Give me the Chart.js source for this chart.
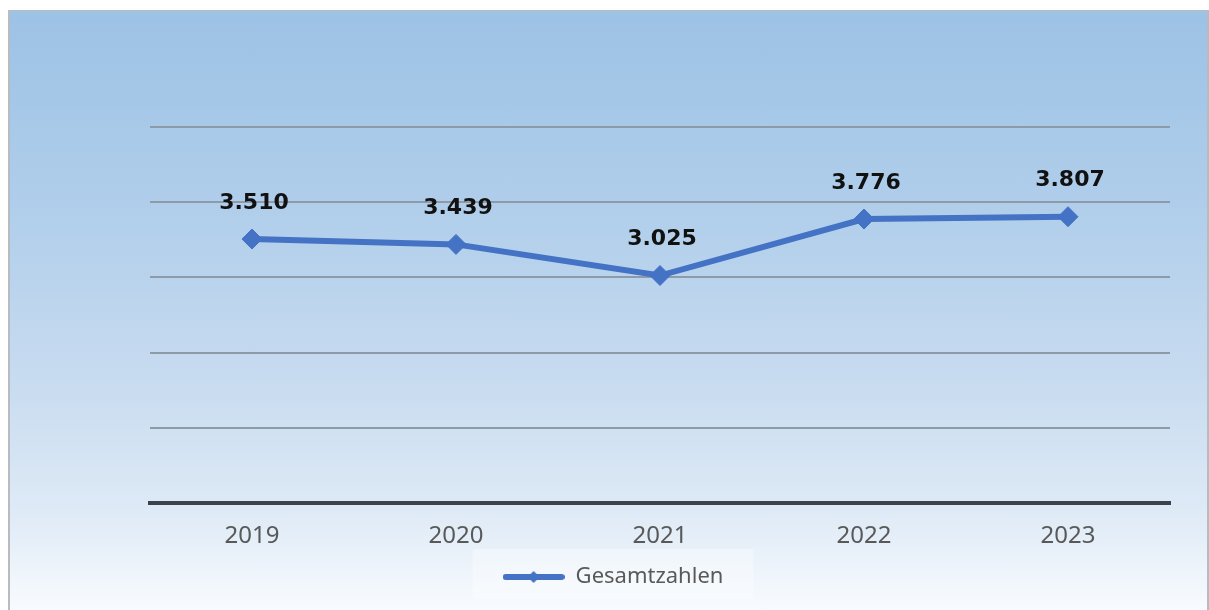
<!DOCTYPE html>
<html lang="de">
<head>
<meta charset="utf-8">
<title>Gesamtzahlen 2019–2023</title>
<script src="https://cdn.jsdelivr.net/npm/chart.js@4.4.0/dist/chart.umd.min.js"></script>
<style>
  html, body { margin: 0; padding: 0; background: #fff; }
  body { width: 1209px; height: 610px; position: relative; overflow: hidden; }
  .frame {
    position: absolute; left: 8px; top: 10px; width: 1197px; height: 610px;
    border-left: 2px solid #b8bcc1; border-top: 1px solid #b8bcc1; border-right: 2px solid #b8bcc1;
    background: linear-gradient(to bottom, #9cc2e5 0%, #b2cfeb 35%, #c9dcf0 62%, #deeaf6 82%, #fbfdff 100%);
  }
  #chart { position: absolute; left: 0; top: 0; }
</style>
</head>
<body>
<div class="frame"></div>
<canvas id="chart" width="1209" height="610"></canvas>
<script>
const years = ["2019", "2020", "2021", "2022", "2023"];
const totals = [3510, 3439, 3025, 3776, 3807];
const seriesName = "Gesamtzahlen";

const blue = "#4472C4";

// 3510 -> "3.510"
function formatNumber(n) {
  return String(n).replace(/\B(?=(\d{3})+(?!\d))/g, ".");
}

// little line-with-diamond used as the legend marker
function legendMarker() {
  const c = document.createElement("canvas");
  c.width = 62;
  c.height = 16;
  const g = c.getContext("2d");
  g.strokeStyle = blue;
  g.lineWidth = 6;
  g.lineCap = "round";
  g.beginPath();
  g.moveTo(3, 8);
  g.lineTo(59, 8);
  g.stroke();
  g.fillStyle = blue;
  g.beginPath();
  g.moveTo(31, 2);
  g.lineTo(37, 8);
  g.lineTo(31, 14);
  g.lineTo(25, 8);
  g.closePath();
  g.fill();
  return c;
}

const valueLabels = {
  id: "valueLabels",
  afterDatasetsDraw(chart) {
    const ctx = chart.ctx;
    const meta = chart.getDatasetMeta(0);
    ctx.save();
    ctx.font = "bold 22px 'DejaVu Sans'";
    ctx.fillStyle = "#111";
    ctx.textAlign = "center";
    ctx.textBaseline = "middle";
    meta.data.forEach((pt, i) => {
      ctx.fillText(formatNumber(chart.data.datasets[0].data[i]), pt.x + 2, pt.y - 36);
    });
    ctx.restore();
  }
};

// legend sits centred under the whole frame, not under the plot area
const legendShift = { x: -47, y: -3 };

const legendBox = {
  id: "legendBox",
  afterLayout(chart) {
    const lg = chart.legend;
    if (!lg) return;
    lg.left += legendShift.x;
    lg.right += legendShift.x;
    lg.top += legendShift.y;
    lg.bottom += legendShift.y;
    lg.legendHitBoxes.forEach(b => { b.left += legendShift.x; b.top += legendShift.y; });
  },
  beforeDraw(chart) {
    const lg = chart.legend;
    if (!lg || !lg.legendHitBoxes.length) return;
    const box = lg.legendHitBoxes[0];
    const ctx = chart.ctx;
    ctx.save();
    ctx.fillStyle = "rgba(255,255,255,0.35)";
    ctx.fillRect(box.left - 30, box.top - 14, box.width + 60, box.height + 28);
    ctx.restore();
  }
};

new Chart(document.getElementById("chart"), {
  type: "line",
  data: {
    labels: years,
    datasets: [{
      label: seriesName,
      data: totals,
      borderColor: blue,
      backgroundColor: blue,
      borderWidth: 6,
      tension: 0,
      pointStyle: "rectRot",
      pointRadius: 10,
      pointHoverRadius: 10,
      pointBackgroundColor: blue,
      pointBorderColor: blue,
      pointBorderWidth: 1
    }]
  },
  options: {
    responsive: false,
    animation: false,
    layout: { padding: { left: 150, right: 39, top: 127, bottom: 9 } },
    plugins: {
      tooltip: { enabled: false },
      legend: {
        position: "bottom",
        labels: {
          usePointStyle: true,
          pointStyleWidth: 62,
          padding: 0,
          color: "#595959",
          font: { family: "'Noto Sans'", size: 22 },
          generateLabels() {
            return [{
              text: seriesName,
              pointStyle: legendMarker(),
              fillStyle: blue,
              strokeStyle: blue,
              lineWidth: 0,
              fontColor: "#595959",
              datasetIndex: 0
            }];
          }
        }
      }
    },
    scales: {
      x: {
        offset: true,
        grid: { display: false, drawTicks: false },
        border: { display: true, color: "#3b4249", width: 4 },
        ticks: {
          padding: 21,
          color: "#595959",
          font: { family: "'Noto Sans'", size: 24, lineHeight: 1 }
        }
      },
      y: {
        min: 0,
        max: 5000,
        ticks: { display: false, stepSize: 1000 },
        grid: { color: "#8d9aa8", lineWidth: 2, drawTicks: false },
        border: { display: false }
      }
    }
  },
  plugins: [legendBox, valueLabels]
});
</script>
</body>
</html>
